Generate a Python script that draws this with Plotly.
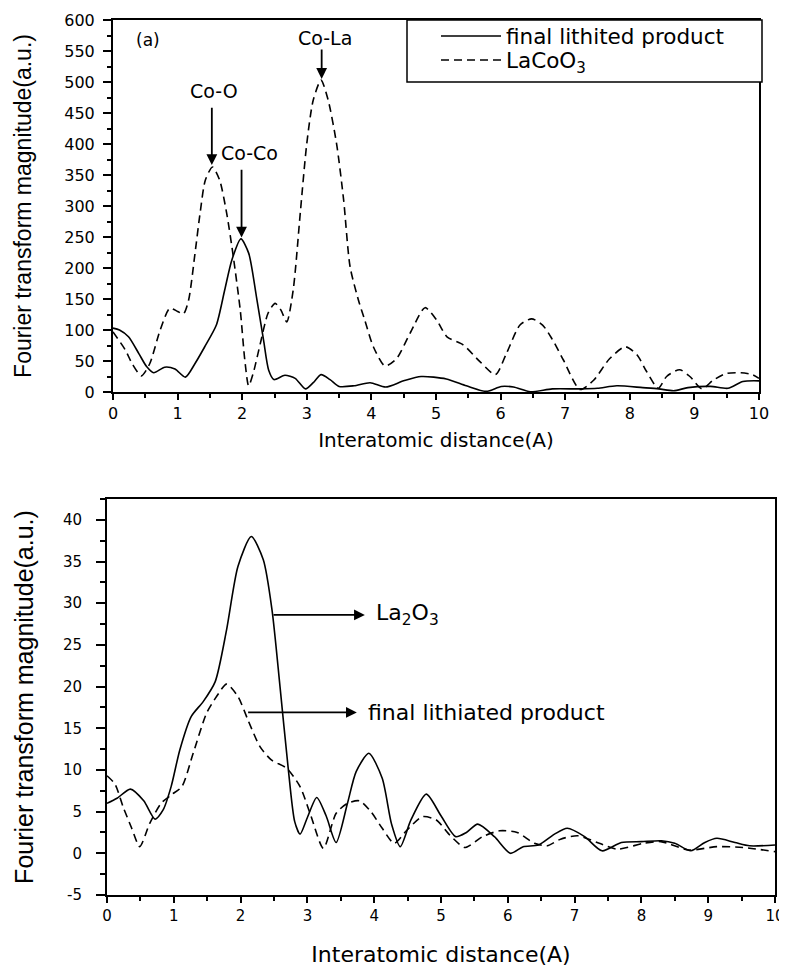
import plotly.graph_objects as go

# ---------------- data ----------------
# Top panel (a)
top_solid_x = [0, 0.1, 0.24, 0.4, 0.52, 0.63, 0.8, 0.96, 1.12, 1.27, 1.42, 1.6, 1.73, 1.84, 1.98,
               2.1, 2.22, 2.33, 2.41, 2.49, 2.66, 2.82, 2.98, 3.1, 3.22, 3.36, 3.5, 3.73, 3.98,
               4.22, 4.5, 4.77, 5.16, 5.47, 5.78, 6.01, 6.2, 6.46, 6.8, 7.24, 7.5, 7.8, 8.2,
               8.45, 8.68, 8.9, 9.25, 9.52, 9.75, 10]
top_solid_y = [103, 100, 89, 62, 41, 31, 40, 37, 24, 46, 73, 108, 165, 213, 247,
               224, 154, 84, 35, 20, 27, 22, 5, 15, 28, 20, 9, 10, 15,
               8, 18, 25, 21, 10, 1, 9, 8, 0.5, 5, 5, 6, 10, 7,
               5, 2, 7, 9, 6, 17, 18]

top_dash_x = [0, 0.19, 0.3, 0.44, 0.57, 0.73, 0.88, 1.0, 1.09, 1.17, 1.27, 1.35, 1.43, 1.54,
              1.65, 1.76, 1.86, 1.97, 2.04, 2.1, 2.17, 2.28, 2.4, 2.51, 2.6, 2.69, 2.79, 2.9,
              3.0, 3.1, 3.22, 3.33, 3.46, 3.57, 3.67, 3.8, 3.9, 4.03, 4.21, 4.39, 4.6, 4.83,
              5.01, 5.17, 5.42, 5.68, 5.92, 6.09, 6.3, 6.48, 6.65, 6.8, 6.97, 7.23, 7.44,
              7.69, 7.93, 8.11, 8.26, 8.44, 8.57, 8.77, 8.93, 9.12, 9.29, 9.5, 9.72, 9.9, 10]
top_dash_y = [97, 68, 45, 26, 46, 100, 135, 130, 126, 148, 224, 290, 342, 363,
              342, 288, 220, 132, 52, 10, 30, 78, 127, 143, 132, 113, 165, 290,
              401, 471, 503, 471, 401, 310, 202, 148, 115, 73, 42, 54, 95, 136,
              116, 89, 76, 49, 28, 62, 108, 118, 108, 85, 52, 4, 19,
              54, 73, 60, 33, 6, 25, 36, 25, 5, 19, 30, 31, 28, 22]

# Bottom panel
bot_solid_x = [0, 0.15, 0.35, 0.55, 0.72, 0.84, 0.96, 1.09, 1.26, 1.44, 1.62, 1.79, 1.96, 2.16,
               2.34, 2.47, 2.59, 2.71, 2.81, 2.89, 3.0, 3.14, 3.28, 3.43, 3.6, 3.73, 3.92,
               4.12, 4.26, 4.39, 4.55, 4.78, 5.0, 5.22, 5.38, 5.55, 5.8, 6.04, 6.23, 6.46,
               6.7, 6.89, 7.15, 7.41, 7.7, 8.0, 8.3, 8.5, 8.74, 8.95, 9.13, 9.4, 9.62, 10]
bot_solid_y = [6.0, 6.6, 7.7, 6.3, 4.1, 5.2, 8.0, 12.4, 16.4, 18.2, 20.6, 26.8, 34.4, 38.0,
               35.2, 29.2, 20.0, 10.4, 3.8, 2.3, 4.3, 6.7, 4.5, 1.3, 6.0, 9.8, 12.0,
               9.0, 3.5, 0.8, 4.0, 7.1, 4.5, 2.0, 2.5, 3.5, 2.0, 0.0, 0.8, 1.0,
               2.3, 3.0, 2.0, 0.3, 1.3, 1.4, 1.5, 1.2, 0.3, 1.3, 1.8, 1.3, 0.9, 1.0]

bot_dash_x = [0, 0.12, 0.24, 0.37, 0.49, 0.64, 0.81, 0.96, 1.12, 1.29, 1.49, 1.64, 1.79, 1.96,
              2.12, 2.29, 2.46, 2.69, 2.89, 3.04, 3.24, 3.43, 3.6, 3.78, 3.95, 4.12, 4.3,
              4.47, 4.72, 4.93, 5.13, 5.36, 5.62, 5.88, 6.14, 6.4, 6.59, 6.79, 7.05, 7.37,
              7.64, 8.03, 8.29, 8.71, 9.13, 9.52, 10]
bot_dash_y = [9.3, 8.3, 5.6, 3.0, 0.8, 3.6, 6.0, 7.0, 8.0, 12.0, 16.8, 18.8, 20.3, 18.8,
              15.8, 12.8, 11.2, 10.2, 8.0, 4.8, 0.6, 4.8, 6.0, 6.3, 5.0, 3.0, 1.2,
              2.6, 4.4, 4.0, 2.2, 0.7, 2.0, 2.7, 2.5, 1.2, 0.9, 1.7, 2.1, 1.2,
              0.5, 1.2, 1.4, 0.4, 0.8, 0.7, 0.2]

x_tick_vals = list(range(0, 11))
top_y_ticks = list(range(0, 601, 50))
bot_y_ticks = list(range(-5, 41, 5))
bot_y_ticktext = [str(v) for v in bot_y_ticks]  # plain hyphen for "-5"

top_series_names = ["final lithited product", "LaCoO<sub>3</sub>"]
bot_series_names = ["La<sub>2</sub>O<sub>3</sub>", "final lithiated product"]

# peak labels of the top panel: (text, label x, label y, arrow x, arrow tail y, arrow tip y)
top_peak_labels = [("Co-O", 1.56, 485, 1.53, 461, 366),
                   ("Co-Co", 2.12, 385, 1.99, 361, 249),
                   ("Co-La", 3.28, 571, 3.23, 555, 505)]
# horizontal arrow labels of the bottom panel: (text, tail x, head x, y)
bot_arrow_labels = [("La<sub>2</sub>O<sub>3</sub>", 2.47, 3.86, 28.6),
                    ("final lithiated product", 2.09, 3.74, 16.9)]

# ---------------- figure ----------------
W, H = 787, 971
OFF = 8  # the page body adds an 8 px margin around the figure
TXT = "DejaVu Sans"
TITLE = "Liberation Sans, Arial, sans-serif"
LW = 1.6
DASH = "8px,5px"

fig = go.Figure()
fig.add_trace(go.Scatter(x=top_solid_x, y=top_solid_y, mode="lines", name=top_series_names[0],
                         line=dict(color="black", width=LW, shape="spline", smoothing=0.7),
                         xaxis="x", yaxis="y", legend="legend"))
fig.add_trace(go.Scatter(x=top_dash_x, y=top_dash_y, mode="lines", name=top_series_names[1],
                         line=dict(color="black", width=LW, dash=DASH, shape="spline", smoothing=0.7),
                         xaxis="x", yaxis="y", legend="legend2"))
fig.add_trace(go.Scatter(x=bot_solid_x, y=bot_solid_y, mode="lines", name=bot_series_names[0],
                         line=dict(color="black", width=LW, shape="spline", smoothing=0.7),
                         xaxis="x2", yaxis="y2", showlegend=False))
fig.add_trace(go.Scatter(x=bot_dash_x, y=bot_dash_y, mode="lines", name=bot_series_names[1],
                         line=dict(color="black", width=LW, dash=DASH, shape="spline", smoothing=0.7),
                         xaxis="x2", yaxis="y2", showlegend=False))


def px_x(p):
    return (p - OFF) / W


def px_y(p):
    return 1 - (p - OFF) / H


axis_common = dict(showline=True, linecolor="black", linewidth=2, mirror=True,
                   ticks="outside", tickcolor="black", tickwidth=1.5,
                   showgrid=False, zeroline=False, automargin=False)


def tf(size):
    return dict(family=TXT, size=size, color="black")


legend_common = dict(xanchor="left", yanchor="middle", bgcolor="rgba(0,0,0,0)",
                     borderwidth=0, font=tf(21.5), itemwidth=60, tracegroupgap=0)

fig.update_layout(
    width=W, height=H,
    margin=dict(l=0, r=0, t=0, b=0, autoexpand=False),
    paper_bgcolor="white", plot_bgcolor="white",
    showlegend=True,
    xaxis=dict(axis_common, domain=[px_x(113), px_x(759)], anchor="y",
               range=[0, 10], tickvals=x_tick_vals, ticklen=6, tickfont=tf(16),
               minor=dict(dtick=0.5, ticks="outside", ticklen=4, tickcolor="black", tickwidth=1.5),
               title=dict(text="Interatomic distance(A)", standoff=11,
                          font=dict(family=TXT, size=20, color="black"))),
    yaxis=dict(axis_common, domain=[px_y(392), px_y(20)], anchor="x",
               range=[0, 600], tickvals=top_y_ticks, ticklen=8, tickfont=tf(16),
               ticklabelstandoff=5,
               minor=dict(dtick=25, ticks="outside", ticklen=4, tickcolor="black", tickwidth=1.5),
               title=dict(text="Fourier transform magnitude(a.u.)", standoff=26,
                          font=dict(family=TITLE, size=23, color="black"))),
    xaxis2=dict(axis_common, domain=[px_x(107), px_x(775)], anchor="y2",
                range=[0, 10], tickvals=x_tick_vals, ticklen=6, tickfont=tf(15),
                minor=dict(dtick=0.5, ticks="outside", ticklen=4, tickcolor="black", tickwidth=1.5),
                title=dict(text="Interatomic distance(A)", standoff=23,
                           font=dict(family=TXT, size=22, color="black"))),
    yaxis2=dict(axis_common, domain=[px_y(895), px_y(499)], anchor="x2",
                range=[-5, 42.5], tickvals=bot_y_ticks, ticktext=bot_y_ticktext,
                ticklen=9, tickfont=tf(15), ticklabelstandoff=11,
                minor=dict(dtick=2.5, ticks="outside", ticklen=5, tickcolor="black", tickwidth=1.5),
                title=dict(text="Fourier transform magnitude(a.u.)", standoff=22,
                           font=dict(family=TITLE, size=25, color="black"))),
    legend=dict(legend_common, x=px_x(436), y=px_y(36)),
    legend2=dict(legend_common, x=px_x(436), y=px_y(60)),
)

# legend frame
fig.add_shape(type="rect", xref="paper", yref="paper",
              x0=px_x(407), x1=px_x(762), y0=px_y(82), y1=px_y(20),
              line=dict(color="black", width=1.5), fillcolor="white", layer="above")

annotations = []
annotations.append(dict(text="(a)", x=0.33, y=568, xref="x", yref="y", showarrow=False,
                        xanchor="left", yanchor="middle", font=tf(17)))
for txt, lx, ly, ax_, tail, tip in top_peak_labels:
    annotations.append(dict(text=txt, x=lx, y=ly, xref="x", yref="y", showarrow=False,
                            xanchor="center", yanchor="middle", font=tf(19)))
    annotations.append(dict(text="", x=ax_, y=tip, ax=ax_, ay=tail, xref="x", yref="y",
                            axref="x", ayref="y", showarrow=True, arrowhead=2,
                            arrowsize=1.2, arrowwidth=1.8, arrowcolor="black"))
for txt, tail, head, y in bot_arrow_labels:
    annotations.append(dict(text="", x=head, y=y, ax=tail, ay=y, xref="x2", yref="y2",
                            axref="x2", ayref="y2", showarrow=True, arrowhead=2,
                            arrowsize=1.2, arrowwidth=1.8, arrowcolor="black"))
    annotations.append(dict(text=txt, x=head + 0.13, y=y, xref="x2", yref="y2",
                            showarrow=False, xanchor="left", yanchor="middle", font=tf(22)))
fig.update_layout(annotations=annotations)

fig.write_html("out.html")
